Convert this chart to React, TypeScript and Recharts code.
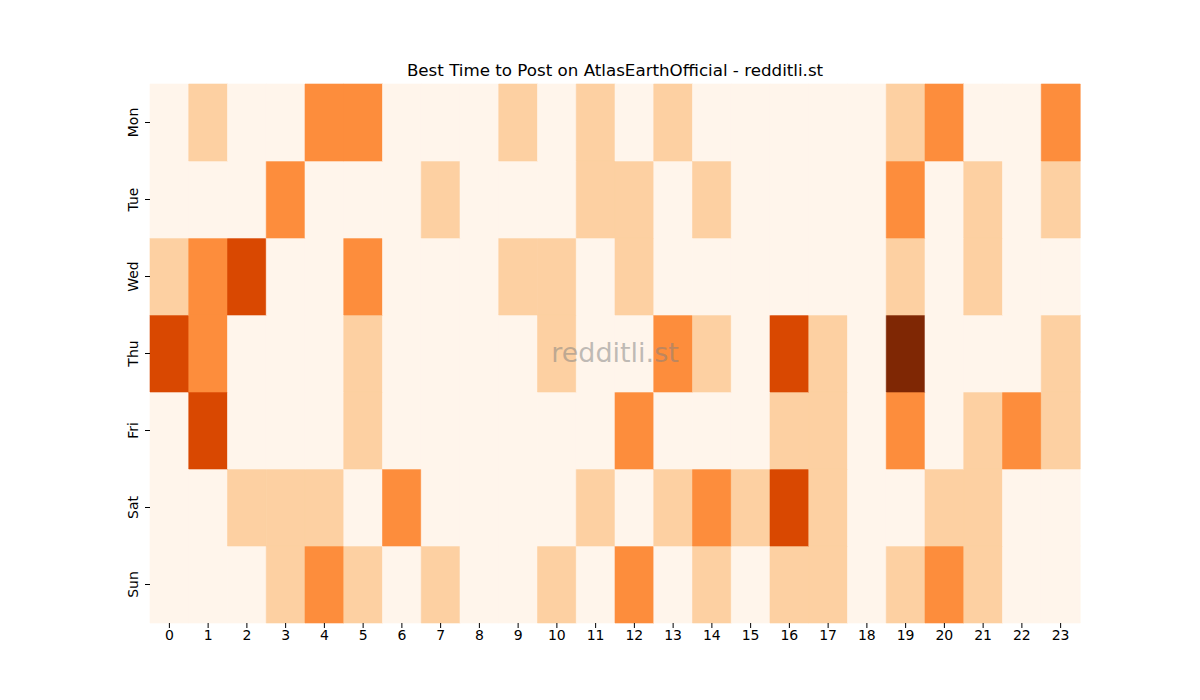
import React from 'react';
import { BarChart, Bar, XAxis, YAxis, Cell } from 'recharts';

const DAYS = ['Mon', 'Tue', 'Wed', 'Thu', 'Fri', 'Sat', 'Sun'];
const HOURS = Array.from({ length: 24 }, (_, i) => String(i));

// post-activity level per hour (0 = none .. 4 = most)
const MON = [0, 1, 0, 0, 2, 2, 0, 0, 0, 1, 0, 1, 0, 1, 0, 0, 0, 0, 0, 1, 2, 0, 0, 2];
const TUE = [0, 0, 0, 2, 0, 0, 0, 1, 0, 0, 0, 1, 1, 0, 1, 0, 0, 0, 0, 2, 0, 1, 0, 1];
const WED = [1, 2, 3, 0, 0, 2, 0, 0, 0, 1, 1, 0, 1, 0, 0, 0, 0, 0, 0, 1, 0, 1, 0, 0];
const THU = [3, 2, 0, 0, 0, 1, 0, 0, 0, 0, 1, 0, 0, 2, 1, 0, 3, 1, 0, 4, 0, 0, 0, 1];
const FRI = [0, 3, 0, 0, 0, 1, 0, 0, 0, 0, 0, 0, 2, 0, 0, 0, 1, 1, 0, 2, 0, 1, 2, 1];
const SAT = [0, 0, 1, 1, 1, 0, 2, 0, 0, 0, 0, 1, 0, 1, 2, 1, 3, 1, 0, 0, 1, 1, 0, 0];
const SUN = [0, 0, 0, 1, 2, 1, 0, 1, 0, 0, 1, 0, 2, 0, 1, 0, 1, 1, 0, 1, 2, 1, 0, 0];

const LEVELS: Record<string, number[]> = {
  Mon: MON, Tue: TUE, Wed: WED, Thu: THU, Fri: FRI, Sat: SAT, Sun: SUN,
};

// Oranges colormap steps
const PALETTE = ['#fff5eb', '#fdd0a2', '#fd8d3c', '#d94801', '#7f2704'];

// every cell is one unit tall; colour comes from LEVELS
const rows = HOURS.map((h) => {
  const row: Record<string, string | number> = { hour: h };
  DAYS.forEach((d) => { row[d] = 1; });
  return row;
});

const FONT = '"DejaVu Sans", sans-serif';

function DayTick(props: any) {
  const { x, y, payload } = props;
  const label = DAYS[6 - Math.floor(payload.value)];
  const bx = x - 5;
  return (
    <text
      x={bx}
      y={y}
      transform={`rotate(-90, ${bx}, ${y})`}
      textAnchor="middle"
      fontSize={14}
      fontFamily={FONT}
      fill="#000"
    >
      {label}
    </text>
  );
}

export default function App() {
  const stackOrder = [...DAYS].reverse();
  return (
    <div style={{ position: 'absolute', left: 0, top: 0, width: 1200, height: 700, background: '#fff' }}>
      <div
        style={{
          position: 'absolute', left: 150, top: 60, width: 930, textAlign: 'center',
          fontFamily: FONT, fontSize: 16.7, lineHeight: '20px', color: '#000',
        }}
      >
        Best Time to Post on AtlasEarthOfficial - redditli.st
      </div>
      <BarChart
        width={1200}
        height={700}
        data={rows}
        margin={{ top: 84, right: 120, bottom: 47, left: 120 }}
        barCategoryGap={0}
        barGap={0}
      >
        <XAxis
          dataKey="hour"
          axisLine={false}
          tickSize={5}
          tickLine={{ stroke: '#000' }}
          height={30}
          interval={0}
          tick={{ fontSize: 14, fontFamily: FONT, fill: '#000' }}
        />
        <YAxis
          type="number"
          domain={[0, 7]}
          ticks={[0.5, 1.5, 2.5, 3.5, 4.5, 5.5, 6.5]}
          axisLine={false}
          tickSize={5}
          tickLine={{ stroke: '#000' }}
          width={30}
          tick={<DayTick />}
        />
        {stackOrder.map((d) => (
          <Bar key={d} dataKey={d} stackId="grid" isAnimationActive={false}>
            {LEVELS[d].map((lv, i) => (
              <Cell key={i} fill={PALETTE[lv]} stroke={PALETTE[lv]} strokeWidth={0.6} />
            ))}
          </Bar>
        ))}
      </BarChart>
      <div
        style={{
          position: 'absolute', left: 150, top: 338, width: 930, textAlign: 'center',
          fontFamily: FONT, fontSize: 27, lineHeight: '30px', color: 'rgba(128,128,128,0.5)',
          pointerEvents: 'none',
        }}
      >
        redditli.st
      </div>
    </div>
  );
}
